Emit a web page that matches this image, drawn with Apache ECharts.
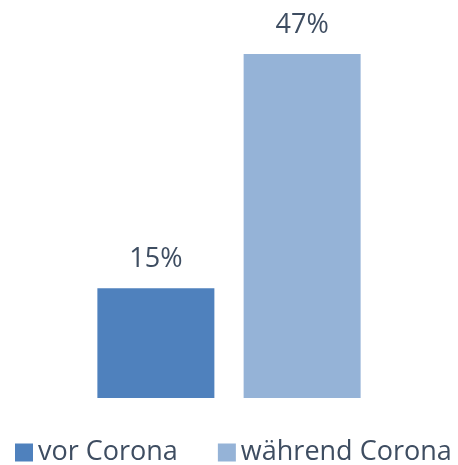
<!DOCTYPE html>
<html>
<head>
<meta charset="utf-8">
<script src="https://cdn.jsdelivr.net/npm/echarts@6/dist/echarts.min.js"></script>
<style>
  html, body { margin: 0; padding: 0; background: #fff; }
  #main { width: 458px; height: 465px; }
</style>
</head>
<body>
<div id="main"></div>
<script>
  var categories = [''];
  var seriesNames = ['vor Corona', 'während Corona'];
  var vorCorona = [15];
  var waehrendCorona = [47];

  var myChart = echarts.init(document.getElementById('main'));
  var labelStyle = {
    show: true,
    position: 'top',
    distance: 15,
    formatter: '{c}%',
    color: '#3e4d61',
    fontSize: 27,
    fontFamily: 'Open Sans'
  };

  myChart.setOption({
    animation: false,
    grid: { left: 0, right: 0, top: 32, bottom: 67 },
    legend: {
      top: 439,
      left: 15,
      padding: 0,
      itemWidth: 18,
      itemHeight: 18,
      itemGap: 40,
      icon: 'rect',
      textStyle: { fontSize: 27, color: '#3e4d61', fontFamily: 'Open Sans' },
      data: seriesNames
    },
    xAxis: {
      type: 'category',
      data: categories,
      axisLine: { show: false },
      axisTick: { show: false },
      axisLabel: { show: false }
    },
    yAxis: {
      type: 'value',
      min: 0,
      max: 50,
      show: false,
      splitLine: { show: false }
    },
    series: [{
      name: seriesNames[0],
      type: 'bar',
      data: vorCorona,
      barWidth: 117,
      barGap: '25%',
      itemStyle: { color: '#4f81bd' },
      label: labelStyle
    }, {
      name: seriesNames[1],
      type: 'bar',
      data: waehrendCorona,
      barWidth: 117,
      itemStyle: { color: '#95b3d7' },
      label: labelStyle
    }]
  });
</script>
</body>
</html>
